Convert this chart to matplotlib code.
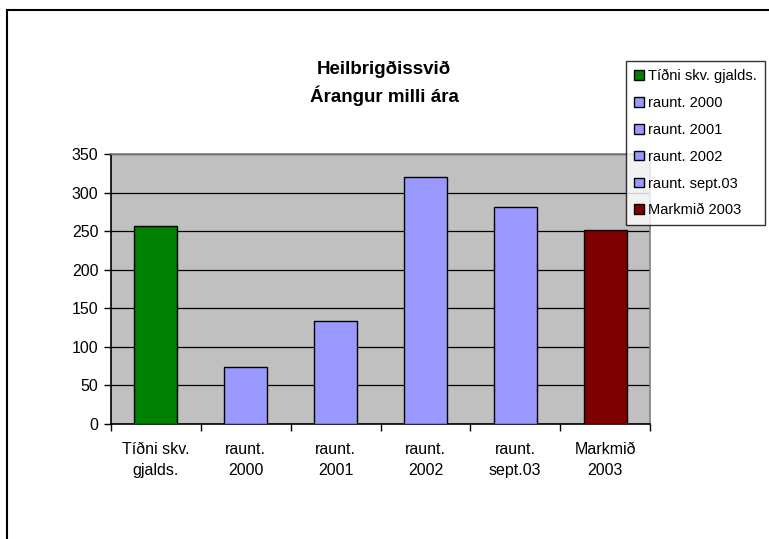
import matplotlib
matplotlib.use("Agg")
from matplotlib import pyplot as plt
from matplotlib.patches import Rectangle

plt.rcParams['font.family'] = ['Liberation Sans', 'DejaVu Sans']

# Gögn lesin af myndinni
categories = ["Tíðni skv.\ngjalds.", "raunt.\n2000", "raunt.\n2001", "raunt.\n2002", "raunt.\nsept.03", "Markmið\n2003"]
legend_labels = ["Tíðni skv. gjalds.", "raunt. 2000", "raunt. 2001", "raunt. 2002", "raunt. sept.03", "Markmið 2003"]
values = [257, 74, 133, 320, 281, 252]
colors = ["#008000", "#9999FF", "#9999FF", "#9999FF", "#9999FF", "#800000"]
yticks = [0, 50, 100, 150, 200, 250, 300, 350]

W, H = 769, 539
fig = plt.figure(figsize=(W / 100, H / 100), dpi=100)

# ramminn utan um allt
fig.patches.append(Rectangle((7 / W, -0.1), 1.2, 1.1 - 10 / H, transform=fig.transFigure,
                             fill=False, edgecolor='black', linewidth=1.5))

ax = fig.add_axes([111 / W, (H - 424) / H, (650 - 111) / W, 270 / H])
ax.set_facecolor("#C0C0C0")

x = list(range(len(values)))
bars = []
for i in x:
    b = ax.bar(i, values[i], width=0.48, color=colors[i], edgecolor='black', linewidth=1.0,
               label=legend_labels[i], zorder=3)
    bars.append(b)

ax.set_xlim(-0.5, len(values) - 0.5)
ax.set_ylim(0, 350)
ax.set_yticks(yticks)
ax.yaxis.grid(True, color='black', linewidth=0.9, zorder=1)
ax.set_axisbelow(True)

ax.set_xticks(x)
ax.set_xticklabels(categories, fontsize=11.5, linespacing=1.5)
ax.set_xticks([i - 0.5 for i in range(len(values) + 1)], minor=True)
ax.tick_params(axis='x', which='major', length=0, pad=13)
ax.tick_params(axis='x', which='minor', length=5, width=1, direction='out')
ax.tick_params(axis='y', length=5, width=1, direction='out', labelsize=11.5, pad=4)

for s in ['top', 'right']:
    ax.spines[s].set_color('#808080')
    ax.spines[s].set_linewidth(1.2)
for s in ['left', 'bottom']:
    ax.spines[s].set_color('black')
    ax.spines[s].set_linewidth(1.2)

fig.text(384 / W, 1 - 83 / H, "Heilbrigðissvið\nÁrangur milli ára", ha='center', va='center',
         fontsize=13.5, fontweight='bold', linespacing=1.45)

leg = fig.legend(handles=[b for b in bars], labels=legend_labels, loc='upper left',
                 bbox_to_anchor=(626 / W, 1 - 61 / H), fontsize=10.5, frameon=True, fancybox=False,
                 handlelength=0.65, handleheight=0.65, handletextpad=0.3, labelspacing=0.88,
                 borderpad=0.55, borderaxespad=0)
leg.get_frame().set_edgecolor('black')
leg.get_frame().set_linewidth(1.0)

fig.savefig("out.png", dpi=100)
